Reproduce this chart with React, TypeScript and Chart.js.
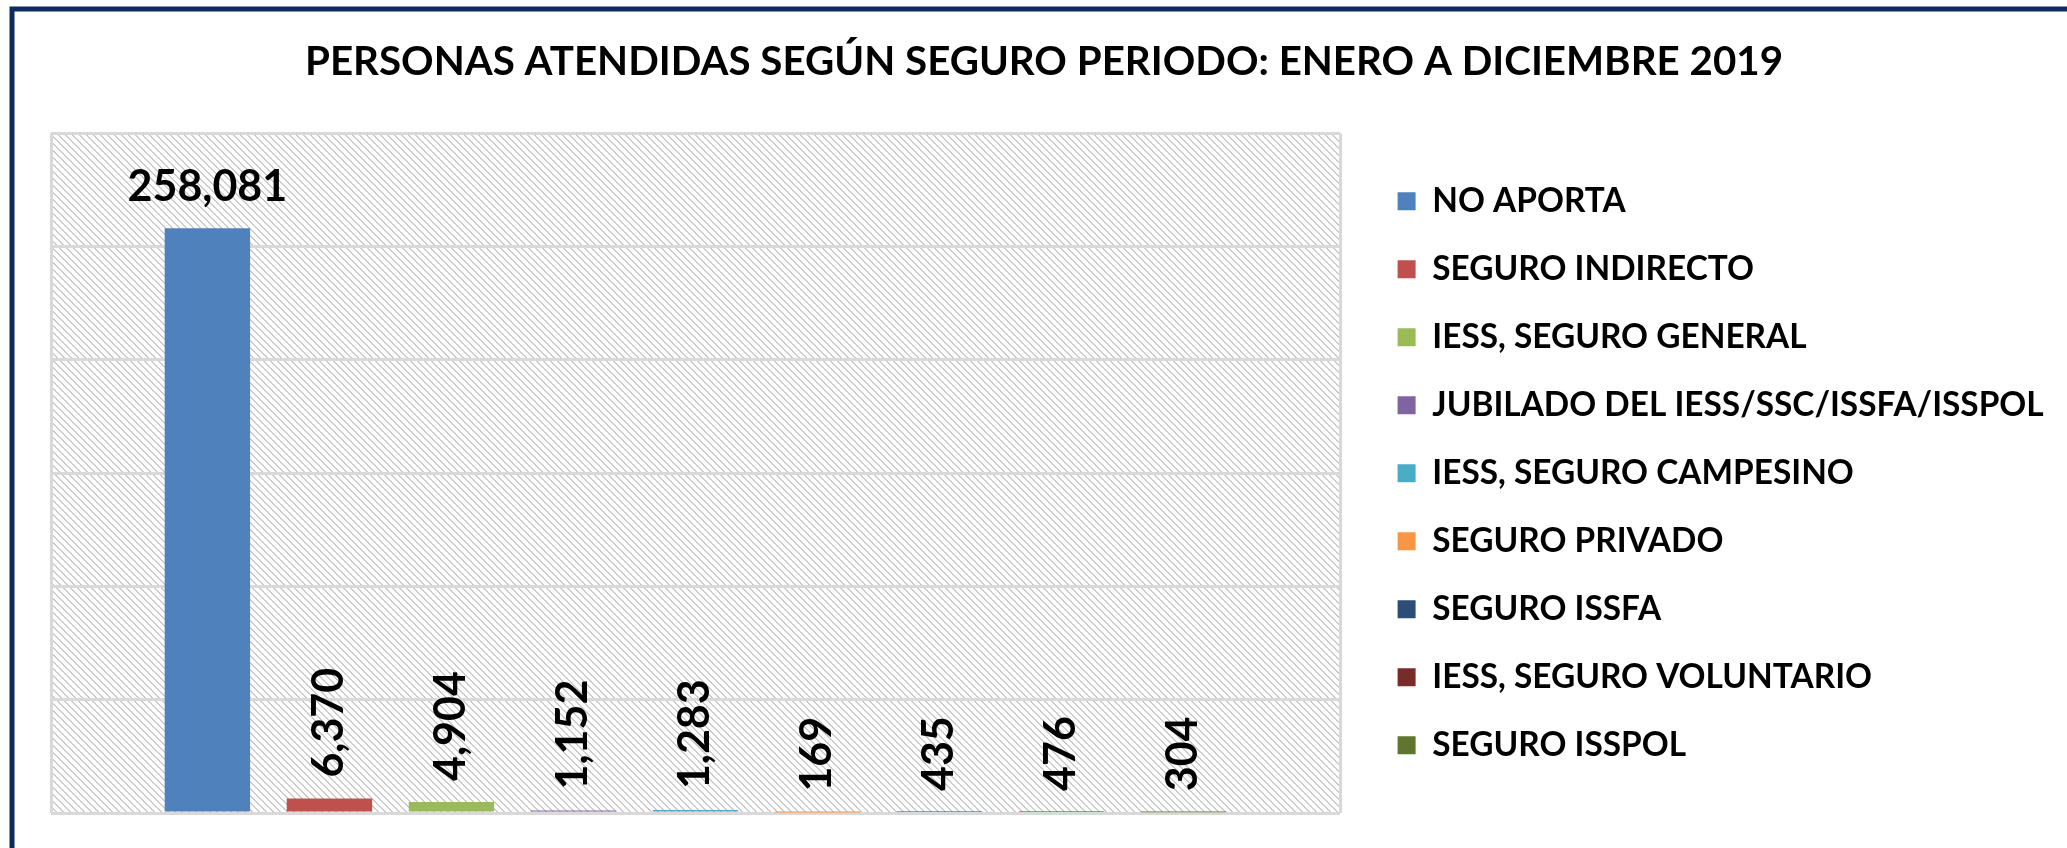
import React, { useEffect, useRef } from "react";
import { Chart, registerables } from "chart.js";

Chart.register(...registerables);

// ---------- data ----------
const chartTitle = "PERSONAS ATENDIDAS SEGÚN SEGURO PERIODO: ENERO A DICIEMBRE 2019";
const categories = [""];
const seriesNames = [
  "NO APORTA",
  "SEGURO INDIRECTO",
  "IESS, SEGURO GENERAL",
  "JUBILADO DEL IESS/SSC/ISSFA/ISSPOL",
  "IESS, SEGURO CAMPESINO",
  "SEGURO PRIVADO",
  "SEGURO ISSFA",
  "IESS, SEGURO VOLUNTARIO",
  "SEGURO ISSPOL",
];
const seriesValues = [258081, 6370, 4904, 1152, 1283, 169, 435, 476, 304];
const seriesColors = [
  "#4F81BD",
  "#C0504D",
  "#9BBB59",
  "#8064A2",
  "#4BACC6",
  "#F79646",
  "#2C4D75",
  "#772C2A",
  "#5F7530",
];
const yAxisMin = 0;
const yAxisMax = 300000;
const yAxisStep = 50000;

// ---------- styling ----------
const FONT = "Lato";
const CANVAS_W = 2088;
const CANVAS_H = 870;
const GRID_COLOR = "#d9d9d9";
const LEGEND_FONT = 33.4;

const backgroundPlugin = {
  id: "hatchAndFrame",
  afterLayout(chart: any) {
    // let long legend labels run past the legend box instead of being clipped
    if (chart.legend) {
      chart.legend.right += 40;
      chart.legend.width += 40;
    }
  },
  beforeDraw(chart: any) {
    const { ctx, chartArea } = chart;
    if (!chart.$hatch) {
      const s = 7;
      const c = document.createElement("canvas");
      c.width = s;
      c.height = s;
      const g = c.getContext("2d")!;
      g.fillStyle = "#ffffff";
      g.fillRect(0, 0, s, s);
      g.fillStyle = "#cccccc";
      for (let i = 0; i < s; i++) {
        g.fillRect(i, i, 1, 1);
        g.fillRect((i + 1) % s, i, 1, 1);
      }
      chart.$hatch = ctx.createPattern(c, "repeat");
    }
    ctx.save();
    ctx.fillStyle = "#ffffff";
    ctx.fillRect(0, 0, chart.width, chart.height);
    ctx.fillStyle = chart.$hatch;
    ctx.fillRect(
      chartArea.left,
      chartArea.top,
      chartArea.right - chartArea.left,
      chartArea.bottom - chartArea.top
    );
    ctx.restore();
  },
  afterDraw(chart: any) {
    const { ctx } = chart;
    ctx.save();
    ctx.strokeStyle = "#0e2b5e";
    ctx.lineWidth = 5;
    ctx.strokeRect(12, 9, chart.width - 24, chart.height - 18);
    ctx.restore();
  },
};

const horizontalLabelIndex = 0;

const valueLabelPlugin = {
  id: "valueLabels",
  afterDatasetsDraw(chart: any) {
    const { ctx } = chart;
    ctx.save();
    ctx.fillStyle = "#000000";
    ctx.font = `bold 43px ${FONT}`;
    chart.data.datasets.forEach((ds: any, i: number) => {
      const meta = chart.getDatasetMeta(i);
      if (!meta || meta.hidden) return;
      meta.data.forEach((bar: any, j: number) => {
        const v = ds.data[j];
        const txt = Number(v).toLocaleString("en-US");
        if (i === horizontalLabelIndex) {
          ctx.textAlign = "center";
          ctx.textBaseline = "alphabetic";
          ctx.fillText(txt, bar.x, bar.y - 27);
        } else {
          ctx.save();
          ctx.translate(bar.x, bar.y - 21);
          ctx.rotate(-Math.PI / 2);
          ctx.textAlign = "left";
          ctx.textBaseline = "middle";
          ctx.fillText(txt, 0, 0);
          ctx.restore();
        }
      });
    });
    ctx.restore();
  },
};

export default function App() {
  const ref = useRef<HTMLCanvasElement>(null);

  useEffect(() => {
    if (!ref.current) return;
    const chart = new Chart(ref.current, {
      type: "bar",
      data: {
        labels: categories,
        datasets: seriesNames.map((name, i) => ({
          label: name,
          data: [seriesValues[i]],
          backgroundColor: seriesColors[i],
          borderWidth: 0,
          yAxisID: "y",
          xAxisID: "x",
          categoryPercentage: 0.852,
          barPercentage: 0.7,
        })),
      },
      options: {
        responsive: false,
        maintainAspectRatio: false,
        animation: false,
        devicePixelRatio: 1,
        events: [],
        layout: { padding: { left: 51, right: 51, top: 0, bottom: CANVAS_H - 813 } },
        plugins: {
          title: {
            display: true,
            text: chartTitle,
            color: "#000000",
            font: { family: FONT, weight: "bold", size: 40.3, lineHeight: 1.2 },
            padding: { top: 38, bottom: 47 },
          },
          legend: {
            display: true,
            position: "right",
            align: "center",
            fullSize: false,
            maxWidth: 674,
            labels: {
              boxWidth: 18,
              boxHeight: 18,
              padding: 68 - LEGEND_FONT,
              color: "#000000",
              font: { family: FONT, weight: "bold", size: LEGEND_FONT },
            },
          },
          tooltip: { enabled: false },
        },
        scales: {
          x: {
            display: true,
            grid: { display: true, color: GRID_COLOR, lineWidth: 3, drawTicks: false, offset: true },
            border: { display: false },
            ticks: { display: false },
          },
          y: {
            type: "linear",
            min: yAxisMin,
            max: yAxisMax,
            ticks: { display: false, stepSize: yAxisStep },
            grid: { color: GRID_COLOR, lineWidth: 3, drawTicks: false },
            border: { display: false },
          },
          yGap: {
            type: "linear",
            axis: "y",
            position: "right",
            display: true,
            grid: { display: false, drawTicks: false },
            ticks: { display: false },
            border: { display: false },
            afterFit: (s: any) => {
              s.width = 23;
            },
          },
        },
      } as any,
      plugins: [backgroundPlugin, valueLabelPlugin],
    });
    return () => chart.destroy();
  }, []);

  return (
    <div
      style={{
        position: "absolute",
        left: 0,
        top: 0,
        width: 2067,
        height: 848,
        overflow: "hidden",
        background: "#ffffff",
      }}
    >
      <canvas
        ref={ref}
        width={CANVAS_W}
        height={CANVAS_H}
        style={{ display: "block", width: CANVAS_W, height: CANVAS_H }}
      />
    </div>
  );
}
